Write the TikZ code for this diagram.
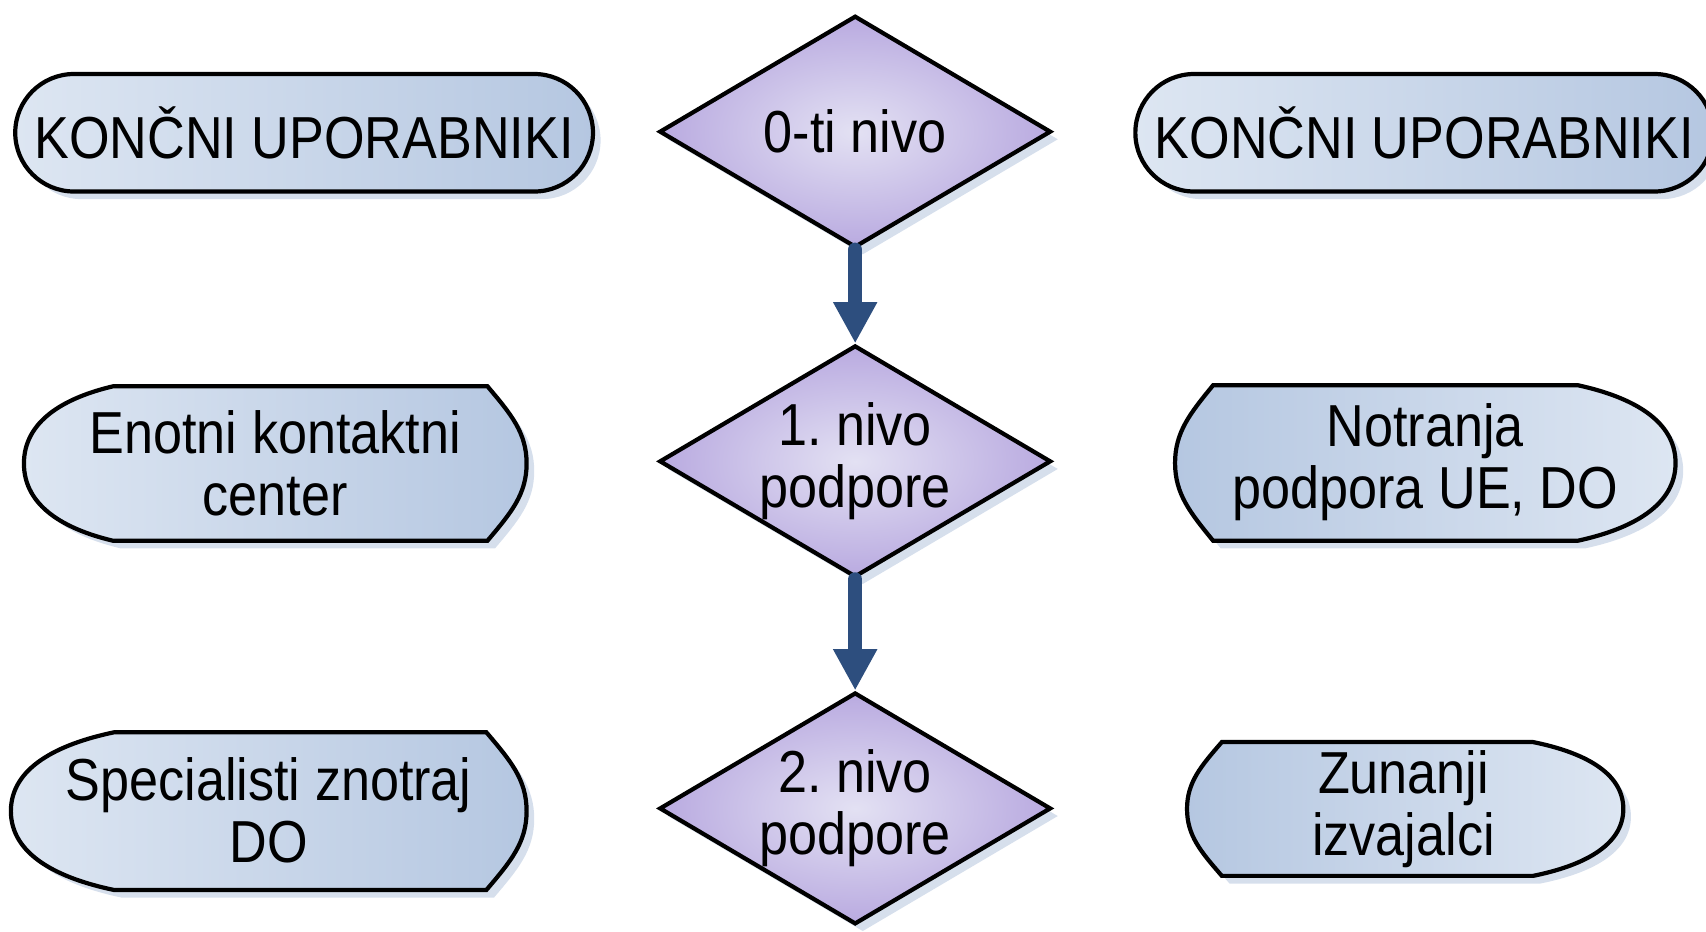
\documentclass[tikz,border=0pt]{standalone}
\usepackage{fontspec}
\setmainfont[FakeStretch=0.88]{Liberation Sans}
\usetikzlibrary{shapes.geometric,arrows.meta,shadows}

\definecolor{boxlight}{HTML}{DDE6F2}
\definecolor{boxdark}{HTML}{B5C7E1}
\definecolor{lvlin}{HTML}{E3E1F3}
\definecolor{lvlout}{HTML}{B9AAE0}
\definecolor{shd}{HTML}{D6DFEC}
\definecolor{flowc}{HTML}{2D4E7E}

\tikzset{
  shdw/.style={drop shadow={shadow xshift=0.07cm, shadow yshift=-0.07cm, fill=shd, opacity=1}},
  users/.style={draw, line width=1.1pt, rounded corners=0.54cm, minimum width=5.31cm, minimum height=1.08cm, inner sep=0pt, left color=boxlight, right color=boxdark, shdw},
  lvl/.style={draw, diamond, line width=1.1pt, minimum width=3.6cm, minimum height=2.13cm, inner sep=0pt, inner color=lvlin, outer color=lvlout, shdw},
  displ/.style={draw, line width=1.1pt, left color=boxlight, right color=boxdark, shdw},
  dispr/.style={draw, line width=1.1pt, left color=boxdark, right color=boxlight, shdw},
  txt/.style={align=center, font=\fontsize{15.5}{16.2}\selectfont\frenchspacing},
  flow/.style={-{Triangle[width=0.38cm, length=0.38cm]}, line width=0.13cm, draw=flowc, line cap=round}
}

% display shape, wide curve on the left: x left corner, x right corner, top, bottom, left bulge, right bulge
\newcommand{\dispbroadleft}[6]{%
  \path[displ] (#1,#3) -- (#2,#3)
    .. controls ({#2+0.6*#6},{#3-0.36*(#3-#4)/2}) and ({#2+#6},{(#3+#4)/2+0.4*(#3-#4)/2}) .. ({#2+#6},{(#3+#4)/2})
    .. controls ({#2+#6},{(#3+#4)/2-0.4*(#3-#4)/2}) and ({#2+0.6*#6},{#4+0.36*(#3-#4)/2}) .. (#2,#4)
    -- (#1,#4)
    .. controls ({#1-0.55*#5},{#4+0.15*(#3-#4)/2}) and ({#1-#5},{(#3+#4)/2-0.55*(#3-#4)/2}) .. ({#1-#5},{(#3+#4)/2})
    .. controls ({#1-#5},{(#3+#4)/2+0.55*(#3-#4)/2}) and ({#1-0.55*#5},{#3-0.15*(#3-#4)/2}) .. cycle;}

% display shape, wide curve on the right
\newcommand{\dispbroadright}[6]{%
  \path[dispr] (#1,#3) -- (#2,#3)
    .. controls ({#2+0.55*#6},{#3-0.15*(#3-#4)/2}) and ({#2+#6},{(#3+#4)/2+0.55*(#3-#4)/2}) .. ({#2+#6},{(#3+#4)/2})
    .. controls ({#2+#6},{(#3+#4)/2-0.55*(#3-#4)/2}) and ({#2+0.55*#6},{#4+0.15*(#3-#4)/2}) .. (#2,#4)
    -- (#1,#4)
    .. controls ({#1-0.6*#5},{#4+0.36*(#3-#4)/2}) and ({#1-#5},{(#3+#4)/2-0.4*(#3-#4)/2}) .. ({#1-#5},{(#3+#4)/2})
    .. controls ({#1-#5},{(#3+#4)/2+0.4*(#3-#4)/2}) and ({#1-0.6*#5},{#3-0.36*(#3-#4)/2}) .. cycle;}

\begin{document}
\begin{tikzpicture}
\useasboundingbox (0,0) rectangle (15.68,-8.56);

% end users
\node[users, txt] (usrL) at (2.795,-1.22) {KONČNI UPORABNIKI};
\node[users, txt] (usrR) at (13.09,-1.22) {KONČNI UPORABNIKI};

% support levels
\node[lvl] (lvl0) at (7.86,-1.21) {};
\node[txt] (lvl0t) at (lvl0) {0-ti nivo};
\node[lvl] (lvl1) at (7.86,-4.24) {};
\node[txt] (lvl1t) at (lvl1) {1. nivo\\podpore};
\node[lvl] (lvl2) at (7.86,-7.43) {};
\node[txt] (lvl2t) at (lvl2) {2. nivo\\podpore};

% left column
\dispbroadleft{1.04}{4.48}{-3.55}{-4.97}{0.82}{0.36}
\node[txt] (ekc) at (2.53,-4.26) {Enotni kontaktni\\center};
\dispbroadleft{1.05}{4.47}{-6.73}{-8.18}{0.95}{0.37}
\node[txt] (spec) at (2.47,-7.45) {Specialisti znotraj\\DO};

% right column
\dispbroadright{11.15}{14.50}{-3.54}{-4.97}{0.35}{0.90}
\node[txt] (notr) at (13.10,-4.25) {Notranja\\podpora UE, DO};
\dispbroadright{11.23}{14.09}{-6.82}{-8.05}{0.32}{0.83}
\node[txt] (zun) at (12.90,-7.44) {Zunanji\\izvajalci};

% escalation
\draw[flow] (lvl0.south) -- (lvl1.north);
\draw[flow] (lvl1.south) -- (lvl2.north);
\end{tikzpicture}
\end{document}
